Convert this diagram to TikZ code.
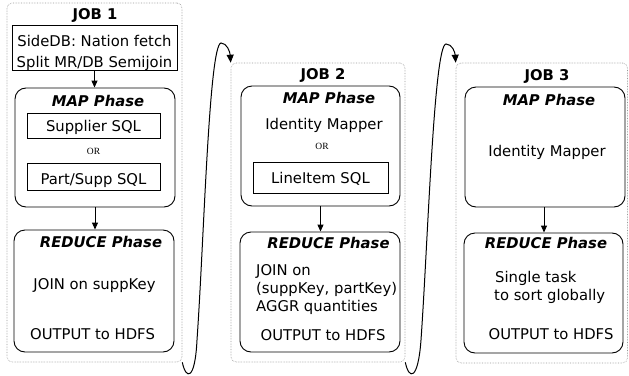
\documentclass[tikz,border=0pt]{standalone}
\usepackage{fontspec}
\setmainfont{DejaVu Sans}
\newfontfamily\orfont{Liberation Serif}
\usetikzlibrary{arrows.meta,fit}

\tikzset{
  jobframe/.style={draw=gray!80, densely dotted, line width=0.6pt, rounded corners=5pt, inner sep=0pt},
  phasebox/.style={draw, line width=0.9pt, rounded corners=11pt, inner sep=0pt},
  sqlbox/.style={draw, line width=0.9pt, inner sep=0pt},
  txt/.style={anchor=base, inner sep=0pt, font=\fontsize{14.8}{18}\selectfont},
  ltxt/.style={txt, anchor=base west},
  jobtitle/.style={txt, font=\fontsize{14.8}{18}\selectfont\bfseries},
  phasetitle/.style={txt, font=\fontsize{14.8}{18}\selectfont\bfseries\itshape},
  ortxt/.style={anchor=base, inner sep=0pt, font=\orfont\fontsize{9.5}{11}\selectfont},
  flow/.style={-{Triangle[length=7pt,width=6pt]}, line width=1pt},
  loopback/.style={-{Triangle[length=8pt,width=7pt]}, line width=1pt},
}

\begin{document}
\begin{tikzpicture}[x=1pt, y=-1pt]
\useasboundingbox (0,0) rectangle (629,375);

% ---------- Job 1 ----------
\node[jobframe, fit={(7,3) (182,362)}] (job1) {};
\node[jobtitle] (job1t) at (95,19) {JOB 1};
\node[sqlbox, fit={(12,25) (177,70)}] (side1) {};
\node[txt] (side1a) at (94.5,46) {SideDB: Nation fetch};
\node[txt] (side1b) at (94.5,67) {Split MR/DB Semijoin};

\node[phasebox, fit={(15,88) (175,207)}] (map1) {};
\node[phasetitle] (map1t) at (98,106) {MAP Phase};
\node[sqlbox, fit={(27,113) (160,138)}] (sup1) {};
\node[txt] (sup1t) at (93.5,131) {Supplier SQL};
\node[ortxt] (or1) at (93.5,154) {OR};
\node[sqlbox, fit={(27,163) (160,190)}] (part1) {};
\node[txt] (part1t) at (93.5,184) {Part/Supp SQL};

\node[phasebox, fit={(14,230) (174,352)}] (red1) {};
\node[phasetitle] (red1t) at (101,247) {REDUCE Phase};
\node[txt] (red1a) at (94.5,289) {JOIN on suppKey};
\node[txt] (red1b) at (92.5,339) {OUTPUT to HDFS};

\draw[flow] (side1.south) -- (side1.south |- map1.north);
\draw[flow] (map1.south) -- (map1.south |- red1.north);

% ---------- Job 2 ----------
\node[jobframe, fit={(231,63) (405,362)}] (job2) {};
\node[jobtitle] (job2t) at (323,79) {JOB 2};
\node[phasebox, fit={(241,86) (400,206)}] (map2) {};
\node[phasetitle] (map2t) at (329,103) {MAP Phase};
\node[txt] (map2a) at (324,129) {Identity Mapper};
\node[ortxt] (or2) at (322,149) {OR};
\node[sqlbox, fit={(253,162) (388,193)}] (line2) {};
\node[txt] (line2t) at (320.5,183) {LineItem SQL};

\node[phasebox, fit={(240,232) (400,352)}] (red2) {};
\node[phasetitle] (red2t) at (328.5,248) {REDUCE Phase};
\node[ltxt] (red2a) at (256,275) {JOIN on};
\node[ltxt] (red2b) at (256,293) {(suppKey, partKey)};
\node[ltxt] (red2c) at (256,311) {AGGR quantities};
\node[txt] (red2d) at (323,340) {OUTPUT to HDFS};

\draw[flow] (map2.south) -- (map2.south |- red2.north);

% ---------- Job 3 ----------
\node[jobframe, fit={(456,63) (627.5,363)}] (job3) {};
\node[jobtitle] (job3t) at (547,80) {JOB 3};
\node[phasebox, fit={(465,87) (625,207)}] (map3) {};
\node[phasetitle] (map3t) at (549,105) {MAP Phase};
\node[txt] (map3a) at (547,156) {Identity Mapper};

\node[phasebox, fit={(464,233) (623,353)}] (red3) {};
\node[phasetitle] (red3t) at (546,248) {REDUCE Phase};
\node[ltxt] (red3a) at (495,282) {Single task};
\node[ltxt] (red3b) at (494,300) {to sort globally};
\node[txt] (red3c) at (551,339) {OUTPUT to HDFS};

\draw[flow] (map3.south -| 544,0) -- (red3.north -| 544,0);

% ---------- loops from one job to the next ----------
\draw[loopback] (job1.south east)
  .. controls (186,380) and (195,381) .. (197,340)
  .. controls (204,240) and (209,45) .. (221,43)
  .. controls (227,43) and (230,52) .. (job2.north west);
\draw[loopback] (job2.south east)
  .. controls (409,380) and (418,381) .. (421,340)
  .. controls (428,240) and (434,45) .. (446,44)
  .. controls (452,44) and (455,52) .. (job3.north west);
\end{tikzpicture}
\end{document}
